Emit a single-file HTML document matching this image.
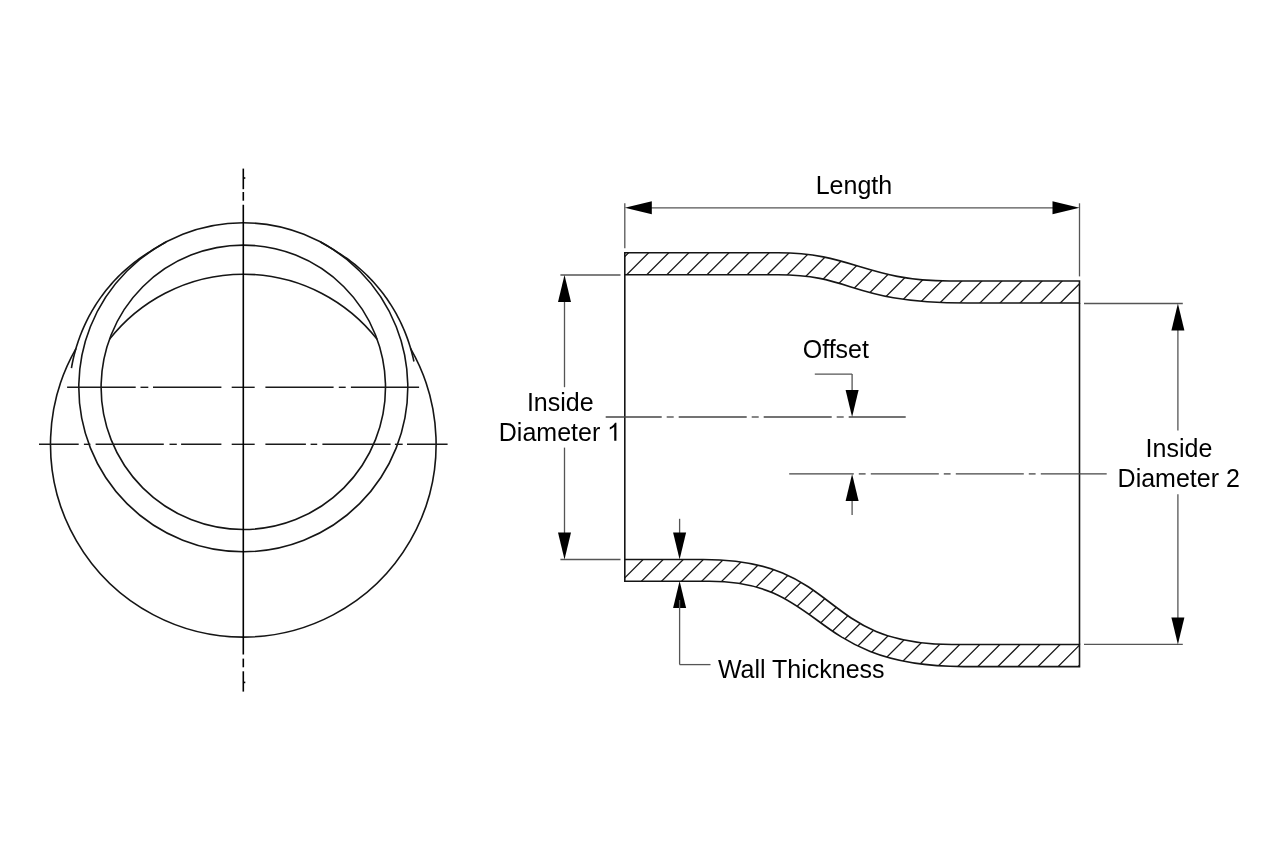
<!DOCTYPE html>
<html><head><meta charset="utf-8"><style>
html,body{margin:0;padding:0;background:#fff;}
svg{display:block;will-change:transform;}
.ol{fill:none;stroke:#151515;stroke-width:1.6;}
.ht{fill:none;stroke:#1a1a1a;stroke-width:1.3;}
.cl{fill:none;stroke:#444;stroke-width:1.3;}
.cll{fill:none;stroke:#1a1a1a;stroke-width:1.4;}
.clv{fill:none;stroke:#000;stroke-width:1.6;}
.dm{fill:none;stroke:#555;stroke-width:1.3;}
.ah{fill:#000;stroke:none;}
text{font-family:"Liberation Sans",sans-serif;font-size:25px;fill:#000;}
</style></head><body>
<svg width="1274" height="862" viewBox="0 0 1274 862">
<circle cx="243.3" cy="387.3" r="164.5" class="ol"/>
<circle cx="243.3" cy="387.3" r="142.2" class="ol"/>
<path class="ol" d="M109.42 339.37A170.1 170.1 0 0 1 377.18 339.37"/>
<path class="ol" d="M76.10 348.30A192.8 192.8 0 1 0 410.50 348.30"/>
<path class="ol" d="M166.07 242.06L163.73 243.32L161.41 244.63L159.12 245.97L156.84 247.35L154.59 248.77L152.36 250.22L150.11 251.64L147.84 253.04L145.59 254.47L143.35 255.94L141.15 257.45L138.96 259.00L136.80 260.58L134.66 262.21L132.54 263.86L130.46 265.55L128.39 267.28L126.36 269.04L124.35 270.84L122.36 272.67L120.41 274.53L118.48 276.43L116.59 278.36L114.72 280.32L112.89 282.32L111.08 284.35L109.31 286.40L107.57 288.49L105.86 290.61L104.18 292.75L102.54 294.93L100.93 297.13L99.35 299.37L97.82 301.63L96.31 303.91L94.84 306.23L93.41 308.56L92.02 310.93L90.66 313.31L89.34 315.73L88.06 318.16L86.82 320.62L85.61 323.10L84.45 325.60L83.33 328.12L82.24 330.67L81.20 333.23L80.19 335.81L79.23 338.41L78.31 341.03L77.43 343.66L76.59 346.31L75.80 348.98L75.05 351.66L74.34 354.36L73.67 357.06L73.05 359.79L72.47 362.52L71.94 365.27L71.45 368.02"/>
<path class="ol" d="M320.53 242.06L322.77 243.27L325.00 244.52L327.21 245.81L329.40 247.13L331.56 248.49L333.71 249.87L335.86 251.26L338.04 252.59L340.21 253.96L342.37 255.36L344.50 256.79L346.60 258.26L348.69 259.77L350.76 261.30L352.80 262.87L354.82 264.48L356.82 266.11L358.80 267.78L360.75 269.48L362.67 271.22L364.57 272.98L366.44 274.78L368.29 276.60L370.11 278.46L371.90 280.35L373.66 282.26L375.40 284.21L377.10 286.18L378.78 288.18L380.43 290.21L382.04 292.27L383.63 294.35L385.18 296.46L386.71 298.59L388.20 300.75L389.65 302.94L391.08 305.15L392.47 307.38L393.83 309.64L395.15 311.92L396.44 314.22L397.70 316.55L398.91 318.89L400.10 321.26L401.24 323.65L402.36 326.05L403.43 328.48L404.47 330.92L405.47 333.39L406.43 335.87L407.35 338.36L408.24 340.88L409.09 343.40L409.89 345.95L410.66 348.51L411.39 351.08L412.09 353.67L412.74 356.26L413.35 358.87L413.92 361.50"/>
<line x1="67.10" y1="387.30" x2="135.70" y2="387.30" class="cll"/>
<line x1="140.50" y1="387.30" x2="148.30" y2="387.30" class="cll"/>
<line x1="153.00" y1="387.30" x2="221.40" y2="387.30" class="cll"/>
<line x1="231.70" y1="387.30" x2="254.70" y2="387.30" class="cll"/>
<line x1="265.40" y1="387.30" x2="333.60" y2="387.30" class="cll"/>
<line x1="338.80" y1="387.30" x2="345.70" y2="387.30" class="cll"/>
<line x1="350.90" y1="387.30" x2="419.10" y2="387.30" class="cll"/>
<line x1="39.00" y1="444.30" x2="78.70" y2="444.30" class="cll"/>
<line x1="83.90" y1="444.30" x2="90.40" y2="444.30" class="cll"/>
<line x1="95.60" y1="444.30" x2="163.80" y2="444.30" class="cll"/>
<line x1="169.50" y1="444.30" x2="176.80" y2="444.30" class="cll"/>
<line x1="181.10" y1="444.30" x2="221.40" y2="444.30" class="cll"/>
<line x1="231.70" y1="444.30" x2="254.70" y2="444.30" class="cll"/>
<line x1="265.40" y1="444.30" x2="305.90" y2="444.30" class="cll"/>
<line x1="310.60" y1="444.30" x2="317.20" y2="444.30" class="cll"/>
<line x1="322.40" y1="444.30" x2="390.60" y2="444.30" class="cll"/>
<line x1="394.90" y1="444.30" x2="402.70" y2="444.30" class="cll"/>
<line x1="407.00" y1="444.30" x2="447.60" y2="444.30" class="cll"/>
<line x1="243.30" y1="168.60" x2="243.30" y2="189.20" class="clv"/>
<line x1="243.30" y1="192.00" x2="243.30" y2="200.70" class="clv"/>
<line x1="243.30" y1="204.80" x2="243.30" y2="654.50" class="clv"/>
<line x1="243.30" y1="658.60" x2="243.30" y2="667.30" class="clv"/>
<line x1="243.30" y1="671.30" x2="243.30" y2="691.60" class="clv"/>
<line x1="243.30" y1="178.00" x2="245.30" y2="178.00" class="clv"/>
<line x1="243.30" y1="682.40" x2="245.30" y2="682.40" class="clv"/>
<defs><clipPath id="c1"><path d="M624.8 252.7H778.16C851.60 252.7 867.25 281.0 949.55 281.0H1079.5V303.0H967.64C848.81 303.0 855.43 274.8 778.03 274.8H624.8Z"/></clipPath><clipPath id="c2"><path d="M624.8 559.5H703.32C843.02 559.5 816.55 644.5 951.86 644.5H1079.5V666.6H963.55C807.89 666.6 827.13 581.3 709.37 581.3H624.8Z"/></clipPath></defs>
<path clip-path="url(#c1)" class="ht" d="M521.18 320L601.18 240M541.26 320L621.26 240M561.34 320L641.34 240M581.42 320L661.42 240M601.50 320L681.50 240M621.58 320L701.58 240M641.66 320L721.66 240M661.74 320L741.74 240M681.82 320L761.82 240M701.90 320L781.90 240M721.98 320L801.98 240M742.06 320L822.06 240M762.14 320L842.14 240M782.22 320L862.22 240M802.30 320L882.30 240M822.38 320L902.38 240M842.46 320L922.46 240M862.54 320L942.54 240M882.62 320L962.62 240M902.70 320L982.70 240M922.78 320L1002.78 240M942.86 320L1022.86 240M962.94 320L1042.94 240M983.02 320L1063.02 240M1003.10 320L1083.10 240M1023.18 320L1103.18 240M1043.26 320L1123.26 240M1063.34 320L1143.34 240M1083.42 320L1163.42 240M1103.50 320L1183.50 240"/>
<path clip-path="url(#c2)" class="ht" d="M482.46 680L612.46 550M502.54 680L632.54 550M522.62 680L652.62 550M542.70 680L672.70 550M562.78 680L692.78 550M582.86 680L712.86 550M602.94 680L732.94 550M623.02 680L753.02 550M643.10 680L773.10 550M663.18 680L793.18 550M683.26 680L813.26 550M703.34 680L833.34 550M723.42 680L853.42 550M743.50 680L873.50 550M763.58 680L893.58 550M783.66 680L913.66 550M803.74 680L933.74 550M823.82 680L953.82 550M843.90 680L973.90 550M863.98 680L993.98 550M884.06 680L1014.06 550M904.14 680L1034.14 550M924.22 680L1054.22 550M944.30 680L1074.30 550M964.38 680L1094.38 550M984.46 680L1114.46 550M1004.54 680L1134.54 550M1024.62 680L1154.62 550M1044.70 680L1174.70 550M1064.78 680L1194.78 550M1084.86 680L1214.86 550M1104.94 680L1234.94 550"/>
<path class="ol" d="M624.8 252.7H778.16C851.60 252.7 867.25 281.0 949.55 281.0H1079.5V303.0H967.64C848.81 303.0 855.43 274.8 778.03 274.8H624.8Z"/>
<path class="ol" d="M624.8 559.5H703.32C843.02 559.5 816.55 644.5 951.86 644.5H1079.5V666.6H963.55C807.89 666.6 827.13 581.3 709.37 581.3H624.8Z"/>
<line x1="624.80" y1="274.80" x2="624.80" y2="559.50" class="ol"/>
<line x1="1079.50" y1="303.00" x2="1079.50" y2="644.50" class="ol"/>
<line x1="624.80" y1="203.30" x2="624.80" y2="248.20" class="dm"/>
<line x1="1079.50" y1="203.30" x2="1079.50" y2="276.40" class="dm"/>
<line x1="644.80" y1="207.80" x2="1059.50" y2="207.80" class="dm"/>
<path class="ah" d="M624.80 207.80L651.80 214.30L651.80 201.30Z"/>
<path class="ah" d="M1079.50 207.80L1052.50 201.30L1052.50 214.30Z"/>
<line x1="560.40" y1="275.00" x2="620.50" y2="275.00" class="dm"/>
<line x1="560.40" y1="559.50" x2="620.50" y2="559.50" class="dm"/>
<line x1="564.50" y1="295.00" x2="564.50" y2="387.20" class="dm"/>
<line x1="564.50" y1="447.60" x2="564.50" y2="540.00" class="dm"/>
<path class="ah" d="M564.50 275.00L558.00 302.00L571.00 302.00Z"/>
<path class="ah" d="M564.50 559.50L571.00 532.50L558.00 532.50Z"/>
<line x1="1084.00" y1="303.50" x2="1182.80" y2="303.50" class="dm"/>
<line x1="1084.00" y1="644.40" x2="1182.80" y2="644.40" class="dm"/>
<line x1="1177.90" y1="320.00" x2="1177.90" y2="430.50" class="dm"/>
<line x1="1177.90" y1="494.30" x2="1177.90" y2="630.00" class="dm"/>
<path class="ah" d="M1177.90 303.50L1171.40 330.50L1184.40 330.50Z"/>
<path class="ah" d="M1177.90 644.40L1184.40 617.40L1171.40 617.40Z"/>
<line x1="605.70" y1="417.00" x2="661.70" y2="417.00" class="cl"/>
<line x1="666.70" y1="417.00" x2="673.70" y2="417.00" class="cl"/>
<line x1="678.70" y1="417.00" x2="746.70" y2="417.00" class="cl"/>
<line x1="751.70" y1="417.00" x2="758.70" y2="417.00" class="cl"/>
<line x1="763.70" y1="417.00" x2="831.70" y2="417.00" class="cl"/>
<line x1="836.70" y1="417.00" x2="843.70" y2="417.00" class="cl"/>
<line x1="848.70" y1="417.00" x2="905.70" y2="417.00" class="cl"/>
<line x1="789.20" y1="473.90" x2="853.80" y2="473.90" class="cl"/>
<line x1="858.80" y1="473.90" x2="865.60" y2="473.90" class="cl"/>
<line x1="870.80" y1="473.90" x2="938.80" y2="473.90" class="cl"/>
<line x1="943.80" y1="473.90" x2="950.60" y2="473.90" class="cl"/>
<line x1="955.80" y1="473.90" x2="1023.80" y2="473.90" class="cl"/>
<line x1="1028.80" y1="473.90" x2="1035.60" y2="473.90" class="cl"/>
<line x1="1040.80" y1="473.90" x2="1106.70" y2="473.90" class="cl"/>
<line x1="814.80" y1="374.10" x2="852.10" y2="374.10" class="dm"/>
<line x1="852.10" y1="374.10" x2="852.10" y2="395.00" class="dm"/>
<path class="ah" d="M852.10 417.00L858.60 390.00L845.60 390.00Z"/>
<line x1="852.10" y1="495.00" x2="852.10" y2="514.90" class="dm"/>
<path class="ah" d="M852.10 473.90L845.60 500.90L858.60 500.90Z"/>
<line x1="679.60" y1="518.80" x2="679.60" y2="540.00" class="dm"/>
<path class="ah" d="M679.60 559.50L686.10 532.50L673.10 532.50Z"/>
<path class="ah" d="M679.60 581.00L673.10 608.00L686.10 608.00Z"/>
<line x1="679.60" y1="600.00" x2="679.60" y2="664.60" class="dm"/>
<line x1="679.60" y1="664.60" x2="710.50" y2="664.60" class="dm"/>
<text x="815.7" y="194">Length</text>
<text x="802.7" y="358.2">Offset</text>
<text x="526.9" y="411">Inside</text>
<text x="498.8" y="440.7">Diameter</text>
<path fill="#000" transform="translate(607.1 440.8) scale(0.012207 -0.012207)" d="M763 0H583V1147Q518 1085 412 1023Q306 961 221 930V1104Q372 1175 485 1276Q598 1377 645 1472H763Z"/>
<text x="1145.6" y="456.8">Inside</text>
<text x="1117.6" y="487">Diameter 2</text>
<text x="717.9" y="677.8">Wall Thickness</text>
</svg>
</body></html>
